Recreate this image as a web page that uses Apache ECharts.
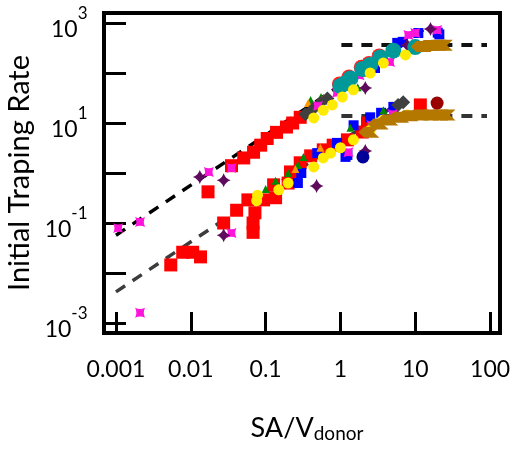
<!DOCTYPE html>
<html><head><meta charset="utf-8">
<script src="https://cdn.jsdelivr.net/npm/echarts@6/dist/echarts.min.js"></script>
<style>html,body{margin:0;padding:0;background:#fff}#c{width:513px;height:450px}</style>
</head><body><div id="c"></div>
<script>
// ---- data (x = SA/V_donor, y = initial trapping rate) ----
const xTickLabels = ['0.001','0.01','0.1','1','10','100'];
const yTickExponents = [3, 1, -1, -3];

const fitUpper = [[0.001, 0.057], [12.8, 730]];
const fitLower = [[0.001, 0.0042], [7.4, 31]];
const plateauUpper = [[1.03, 363], [91, 363]];
const plateauLower = [[1.03, 13.8], [91, 13.8]];

const redSquares = [
  [0.017,0.42],[0.035,1.4],[0.051,2.0],[0.069,2.6],[0.086,3.6],[0.105,4.9],[0.14,6.5],[0.19,8.3],[0.23,10],[0.29,13],
  [0.0054,0.0145],[0.0078,0.026],[0.0106,0.026],[0.0135,0.021],[0.0275,0.1],[0.041,0.18],[0.058,0.29],
  [0.068,0.065],[0.068,0.1],[0.072,0.16],[0.094,0.29],[0.136,0.32],[0.128,0.58],[0.2,0.63],[0.215,1.05],
  [0.29,1.6],[0.4,2.2],[0.59,2.9],[0.8,3.6],[1.24,4.6],[1.96,6.6],[2.3,10],[11.7,23]
];
const redCircles = [[0.97,60],[1.3,83],[1.9,130],[2.4,155],[3.3,220]];
const blueSquares = [
  [2.0,115],[2.9,126],[5.75,400],[6.8,420],[11,630],[21,590],[20,640],
  [0.27,0.63],[0.3,1.0],[0.49,2.5],[0.9,4],[1.17,2.1],[1.24,2.3],[1.5,9],[2.5,13],[5.1,21],[3.5,16]
];
const greenTriangles = [
  [0.4,29],[0.55,33],[1.7,52],[3.5,190],
  [0.1,0.48],[0.136,0.7],[0.2,1.0],[0.27,1.45],[0.32,2.1],[1.36,8],[3.75,18]
];
const orangeTriangles = [
  [0.37,25],[0.6,32],[2.2,100],
  [0.54,3.2],[5.75,13],[14.4,16],[0.25,1.2]
];
const grayDiamonds = [
  [0.34,15],[0.43,19],[0.54,25],[0.67,31],
  [6.9,26],[5.9,23]
];
const magentaStars = [
  [0.00107,0.079],[0.0021,0.105],[0.0174,1.05],[0.035,1.26],[0.5,22],[0.9,40],[1.8,90],[4.6,166],
  [8.1,575],[10,630],[19.6,724],
  [0.0021,0.0016],[0.035,0.063],[1.28,2.6],[2.6,9],[5,15]
];
const purpleStars = [
  [0.0132,0.83],[0.0275,0.72],[2.15,50],[7.8,360],[16,760],
  [0.0275,0.057],[0.48,0.55],[2.15,2.75]
];
const tealCircles = [
  [1.0,55],[1.15,62],[1.36,78],[1.96,120],[2.5,145],[3.4,205],[5.1,280],[10,330]
];
const yellowCircles = [
  [0.44,12.6],[0.59,18],[0.78,23],[1.06,33],[1.49,46],[2.5,100],[3.75,158],[7.4,230],
  [0.076,0.28],[0.078,0.36],[0.15,0.46],[0.2,0.63],[0.44,1.32],[0.59,2.0],[0.74,2.5],[1.0,3.2],
  [1.49,4.6],[2.5,7.2],[3.7,11.5],[7.8,14.5]
];
const brownChevrons = [
  [12,340],[15,355],[19,360],[23,360],
  [2.4,6.5],[3.2,9.5],[4.3,11.5],[6,13],[8,14],[11,14.5],[15,14.5],[20,14.5],[25,14.5]
];
const darkRedCircles = [[19.6,25]];
const navyCircles = [[2.0,2.1]];

// ---- chart ----
const FONT = 'Lato';
const star = 'path://M0,-10 Q2.5,-2.5 10,0 Q2.5,2.5 0,10 Q-2.5,2.5 -10,0 Q-2.5,-2.5 0,-10 Z';
const chevron = 'path://M0,6 L6,0 L22,0 L16,6 L22,12 L6,12 Z';

function scatter(name, data, symbol, size, color, rotate) {
  return { name, type: 'scatter', data, symbol, symbolSize: size, symbolRotate: rotate || 0,
    itemStyle: { color, opacity: 1 }, z: 3 };
}
function dashed(name, data, color, width) {
  return { name, type: 'line', data, symbol: 'none', z: 2,
    lineStyle: { color, width, type: [11, 9] }, silent: true };
}

const chart = echarts.init(document.getElementById('c'), null, { renderer: 'canvas' });
chart.setOption({
  animation: false,
  backgroundColor: '#fff',
  grid: { left: 104, right: 13, top: 13, bottom: 117, show: true, borderColor: '#000', borderWidth: 4,
          backgroundColor: 'transparent', outerBoundsMode: 'none' },
  xAxis: {
    type: 'log', logBase: 10, min: Math.pow(10, -3.16), max: Math.pow(10, 2.133),
    axisLine: { show: false },
    splitLine: { show: false },
    axisTick: { show: true, inside: true, length: 21, lineStyle: { width: 3, color: '#000' } },
    axisLabel: {
      interval: 0, showMinLabel: false, showMaxLabel: false, margin: 25,
      fontSize: 23, fontFamily: FONT, color: '#000',
      formatter: v => { const e = Math.log10(v); const r = Math.round(e);
        return Math.abs(e - r) < 1e-6 ? xTickLabels[r + 3] : ''; }
    },
    name: '{a|SA/V}{b|donor}', nameLocation: 'middle', nameGap: 80,
    nameTextStyle: { padding: [0, 0, 0, 10], rich: {
      a: { fontSize: 27, lineHeight: 30, fontFamily: FONT, color: '#000' },
      b: { fontSize: 19, lineHeight: 19, verticalAlign: 'bottom', fontFamily: FONT, color: '#000' } } }
  },
  yAxis: {
    type: 'log', logBase: 10, min: Math.pow(10, -3.2), max: Math.pow(10, 3.2),
    axisLine: { show: false },
    splitLine: { show: false },
    axisTick: { show: true, inside: true, length: 22, lineStyle: { width: 3, color: '#000' } },
    axisLabel: {
      interval: 0, showMinLabel: false, showMaxLabel: false, margin: 16,
      formatter: v => { const e = Math.log10(v); const r = Math.round(e);
        if (Math.abs(e - r) > 1e-6 || yTickExponents.indexOf(r) < 0) return '';
        return '{b|10}{s|' + r + '}{sp| }'; },
      rich: {
        b: { fontSize: 23, lineHeight: 23, verticalAlign: 'bottom', fontFamily: FONT, color: '#000' },
        s: { fontSize: 17, lineHeight: 17, verticalAlign: 'top', fontFamily: FONT, color: '#000' },
        sp: { fontSize: 2, lineHeight: 36, fontFamily: FONT }
      }
    },
    name: 'Initial Traping Rate', nameLocation: 'middle', nameGap: 70, nameRotate: 90,
    nameTextStyle: { fontSize: 29, fontFamily: FONT, color: '#000' }
  },
  series: [
    dashed('fitUpper', fitUpper, '#000', 3.5),
    dashed('fitLower', fitLower, '#3c3c3c', 3.5),
    scatter('redCircle', redCircles, 'circle', 15, '#ff2020'),
    scatter('red', redSquares, 'rect', 13, '#ff0000'),
    scatter('blue', blueSquares, 'rect', 10, '#0000ff'),
    scatter('green', greenTriangles, 'triangle', 8, '#008a00'),
    scatter('orange', orangeTriangles, 'triangle', 8, '#ff9900'),
    scatter('gray', grayDiamonds, 'diamond', 14, '#404040'),
    scatter('magenta', magentaStars, star, 14, '#ff14dc', 45),
    scatter('purple', purpleStars, star, 14, '#5e0b5e'),
    scatter('teal', tealCircles, 'circle', 16, '#009999'),
    scatter('yellow', yellowCircles, 'circle', 11, '#ffeb00'),
    scatter('brown', brownChevrons, chevron, [21, 11], '#b47800'),
    scatter('darkred', darkRedCircles, 'circle', 13, '#990000'),
    scatter('navy', navyCircles, 'circle', 13, '#000099'),
    dashed('plateauUpper', plateauUpper, '#111', 4),
    dashed('plateauLower', plateauLower, '#333', 4)
  ]
});
</script></body></html>
